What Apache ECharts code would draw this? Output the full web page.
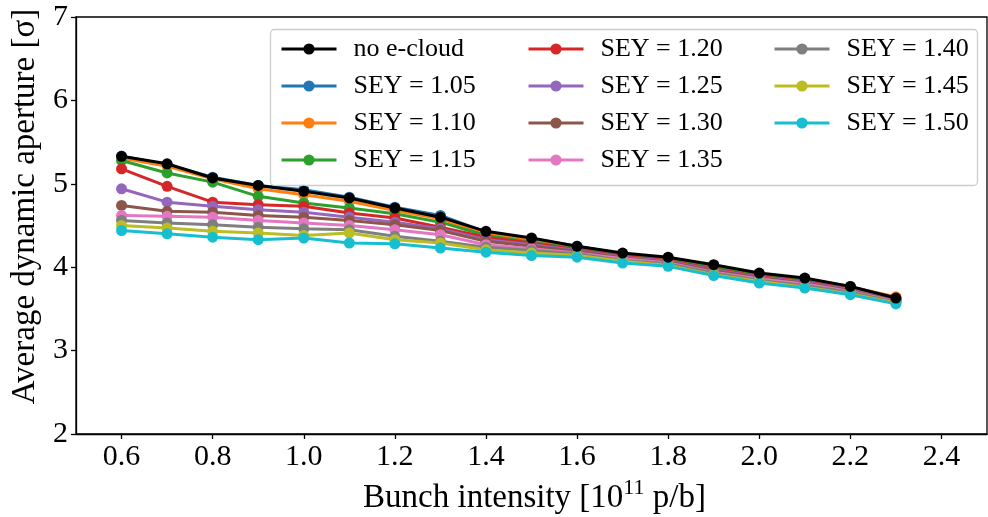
<!DOCTYPE html>
<html>
<head>
<meta charset="utf-8">
<script src="https://cdn.jsdelivr.net/npm/echarts@6/dist/echarts.min.js"></script>
<style>html,body{margin:0;padding:0;background:#fff}#c{width:988px;height:517px}</style>
</head>
<body>
<div id="c"></div>
<script>
const intensity = [0.6,0.7,0.8,0.9,1.0,1.1,1.2,1.3,1.4,1.5,1.6,1.7,1.8,1.9,2.0,2.1,2.2,2.3];
const xTicks = [0.6,0.8,1.0,1.2,1.4,1.6,1.8,2.0,2.2,2.4];
const yTicks = [2,3,4,5,6,7];
const seriesNames = ['no e-cloud','SEY = 1.05','SEY = 1.10','SEY = 1.15','SEY = 1.20','SEY = 1.25','SEY = 1.30','SEY = 1.35','SEY = 1.40','SEY = 1.45','SEY = 1.50'];
const colors = ['#000000','#1f77b4','#ff7f0e','#2ca02c','#d62728','#9467bd','#8c564b','#e377c2','#7f7f7f','#bcbd22','#17becf'];

const noCloud = [5.33,5.24,5.07,4.98,4.91,4.83,4.71,4.60,4.43,4.35,4.25,4.17,4.12,4.03,3.93,3.87,3.77,3.63];
const sey105  = [5.33,5.23,5.08,4.98,4.93,4.84,4.72,4.62,4.42,4.34,4.25,4.16,4.11,4.02,3.92,3.86,3.77,3.63];
const sey110  = [5.31,5.21,5.06,4.94,4.87,4.79,4.68,4.58,4.40,4.32,4.23,4.15,4.10,4.01,3.91,3.85,3.76,3.645];
const sey115  = [5.28,5.13,5.02,4.85,4.77,4.71,4.64,4.54,4.38,4.30,4.22,4.14,4.09,4.00,3.90,3.84,3.75,3.62];
const sey120  = [5.18,4.97,4.78,4.75,4.73,4.65,4.59,4.48,4.36,4.29,4.21,4.13,4.08,3.98,3.89,3.83,3.74,3.61];
const sey125  = [4.94,4.78,4.73,4.69,4.66,4.60,4.54,4.46,4.33,4.27,4.20,4.12,4.07,3.97,3.88,3.82,3.73,3.61];
const sey130  = [4.74,4.67,4.66,4.62,4.60,4.56,4.51,4.44,4.31,4.25,4.19,4.11,4.06,3.96,3.87,3.81,3.72,3.60];
const sey135  = [4.62,4.61,4.60,4.56,4.53,4.50,4.45,4.39,4.27,4.22,4.17,4.10,4.05,3.94,3.86,3.80,3.71,3.59];
const sey140  = [4.56,4.53,4.51,4.48,4.46,4.45,4.37,4.31,4.24,4.20,4.16,4.08,4.04,3.93,3.84,3.78,3.70,3.58];
const sey145  = [4.50,4.47,4.43,4.41,4.38,4.41,4.33,4.29,4.21,4.17,4.14,4.07,4.02,3.91,3.83,3.76,3.68,3.57];
const sey150  = [4.44,4.40,4.36,4.33,4.35,4.29,4.28,4.23,4.18,4.14,4.12,4.05,4.01,3.90,3.81,3.75,3.67,3.56];
const allValues = [noCloud,sey105,sey110,sey115,sey120,sey125,sey130,sey135,sey140,sey145,sey150];

const FONT = 'Liberation Serif';
const chart = echarts.init(document.getElementById('c'), null, {renderer:'canvas'});

const series = seriesNames.map((name,i) => ({
  name: name,
  type: 'line',
  data: intensity.map((x,j) => [x, allValues[i][j]]),
  color: colors[i],
  symbol: 'circle',
  symbolSize: 11,
  lineStyle: {width: 3, color: colors[i]},
  itemStyle: {color: colors[i]},
  z: i === 0 ? 5 : 2,
  animation: false
}));

function legendCol(names, left) {
  return {
    data: names,
    orient: 'vertical',
    left: left,
    top: 36,
    padding: 0,
    itemWidth: 55,
    itemHeight: 14,
    itemGap: 11,
    selectedMode: false,
    lineStyle: {width: 3},
    textStyle: {fontFamily: FONT, fontSize: 26, color: '#000', padding: [0,0,0,12]}
  };
}

chart.setOption({
  animation: false,
  backgroundColor: '#fff',
  grid: {left: 76, top: 17, right: 1, bottom: 83, show: true, borderColor: '#000', borderWidth: 1.3,
    backgroundColor: 'transparent', containLabel: false, outerBoundsMode: 'none'},
  xAxis: {
    type: 'value', min: 0.5, max: 2.5,
    name: 'Bunch intensity [10{sup|11} p/b]',
    nameLocation: 'middle', nameGap: 38,
    nameTextStyle: {fontFamily: FONT, fontSize: 33, color: '#000', padding: [0,0,0,6],
      rich: {sup: {fontFamily: FONT, fontSize: 22, color: '#000', verticalAlign: 'top', padding: [0,0,20,0]}}},
    axisLine: {show: true, lineStyle: {color: '#000', width: 1.3}},
    axisTick: {show: true, inside: false, length: 5, lineStyle: {color: '#000', width: 1.3}, customValues: xTicks},
    axisLabel: {fontFamily: FONT, fontSize: 30, color: '#000', margin: 8, customValues: xTicks,
      formatter: v => v.toFixed(1)},
    splitLine: {show: false}
  },
  yAxis: {
    type: 'value', min: 2, max: 7, interval: 1,
    name: 'Average dynamic aperture [σ]',
    nameLocation: 'middle', nameGap: 29, nameRotate: 90,
    nameTextStyle: {fontFamily: FONT, fontSize: 33, color: '#000', padding: [0,0,0,38]},
    axisLine: {show: true, lineStyle: {color: '#000', width: 1.3}},
    axisTick: {show: true, inside: false, length: 5, lineStyle: {color: '#000', width: 1.3}},
    axisLabel: {fontFamily: FONT, fontSize: 30, color: '#000', margin: 8,
      formatter: v => yTicks.includes(v) ? String(v) : ''},
    splitLine: {show: false}
  },
  legend: [
    legendCol(seriesNames.slice(0,4), 280),
    legendCol(seriesNames.slice(4,8), 527),
    legendCol(seriesNames.slice(8,11), 773)
  ],
  graphic: [{
    type: 'rect', z: 3, silent: true,
    shape: {x: 270.5, y: 29.5, width: 707, height: 156, r: 4},
    style: {fill: 'rgba(255,255,255,0.85)', stroke: '#cccccc', lineWidth: 1.3}
  }],
  series: series
});
</script>
</body>
</html>
